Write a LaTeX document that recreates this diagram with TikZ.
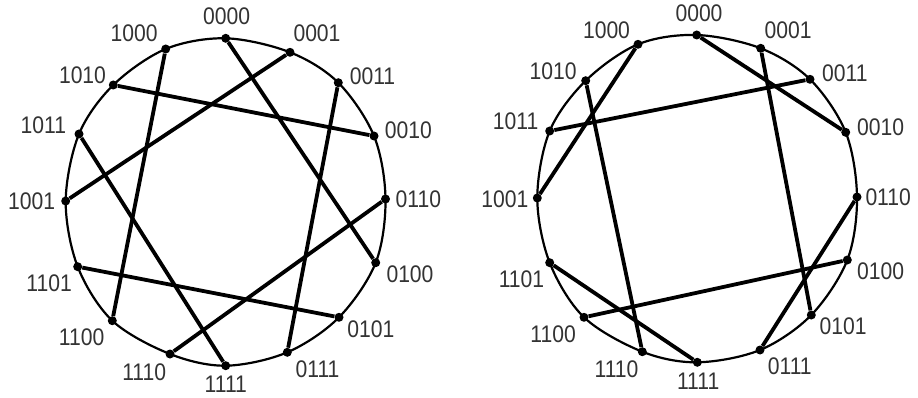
\documentclass[tikz,border=0pt]{standalone}
\usepackage{fontspec}
\setmainfont{Liberation Sans}
\newfontfamily\bitfont[FakeStretch=0.88]{Liberation Sans}
\usepackage{tikz}
\usetikzlibrary{positioning}

\tikzset{
  dot/.style={circle, fill=black, inner sep=0pt, minimum size=9pt},
  chord/.style={line width=3.8pt},
  rim/.style={line width=2.2pt},
  lbl/.style={inner sep=0pt, text=black!80, font=\bitfont\fontsize{24}{26}\selectfont}
}

\begin{document}
\begin{tikzpicture}[x=1pt, y=-1pt]
    \useasboundingbox (0,0) rectangle (918,398);

    % left ring
    \node[dot] (L0000) at (225.7,38.3) {};
    \node[dot] (L0001) at (290,52.3) {};
    \node[dot] (L0011) at (338.3,82.7) {};
    \node[dot] (L0010) at (374,136) {};
    \node[dot] (L0110) at (385.5,199) {};
    \node[dot] (L0100) at (375.7,262.7) {};
    \node[dot] (L0101) at (339,317.3) {};
    \node[dot] (L0111) at (287.3,352.3) {};
    \node[dot] (L1111) at (225.7,365.7) {};
    \node[dot] (L1110) at (170,354) {};
    \node[dot] (L1100) at (112.3,320.7) {};
    \node[dot] (L1101) at (77.7,266.7) {};
    \node[dot] (L1001) at (65.7,201) {};
    \node[dot] (L1011) at (79,134) {};
    \node[dot] (L1010) at (113.3,85) {};
    \node[dot] (L1000) at (165.7,49) {};

    \node[lbl] (tL0000) at (226.7,16.7) {0000};
    \node[lbl] (tL0001) at (317,33) {0001};
    \node[lbl] (tL0011) at (372.5,76.7) {0011};
    \node[lbl] (tL0010) at (408.3,130) {0010};
    \node[lbl] (tL0110) at (418.3,199) {0110};
    \node[lbl] (tL0100) at (410,274) {0100};
    \node[lbl] (tL0101) at (370.8,329) {0101};
    \node[lbl] (tL0111) at (317.5,369) {0111};
    \node[lbl] (tL1111) at (225.8,384) {1111};
    \node[lbl] (tL1110) at (144.2,372.5) {1110};
    \node[lbl] (tL1100) at (81.7,337.5) {1100};
    \node[lbl] (tL1101) at (49.2,283.3) {1101};
    \node[lbl] (tL1001) at (31.7,201.5) {1001};
    \node[lbl] (tL1011) at (43.3,125.3) {1011};
    \node[lbl] (tL1010) at (82.5,75) {1010};
    \node[lbl] (tL1000) at (134.2,33.3) {1000};

    \draw[rim] plot[smooth cycle, tension=0.55] coordinates {(L0000.center) (L0001.center) (L0011.center) (L0010.center) (L0110.center) (L0100.center) (L0101.center) (L0111.center) (L1111.center) (L1110.center) (L1100.center) (L1101.center) (L1001.center) (L1011.center) (L1010.center) (L1000.center)};

    \draw[chord] (L1000) -- (L1100);
    \draw[chord] (L0000) -- (L0100);
    \draw[chord] (L0001) -- (L1001);
    \draw[chord] (L1010) -- (L0010);
    \draw[chord] (L0011) -- (L0111);
    \draw[chord] (L1011) -- (L1111);
    \draw[chord] (L0110) -- (L1110);
    \draw[chord] (L1101) -- (L0101);

    % right ring
    \node[dot] (R0000) at (696.7,35) {};
    \node[dot] (R0001) at (760.7,48.3) {};
    \node[dot] (R0011) at (810,79.3) {};
    \node[dot] (R0010) at (845.7,132.3) {};
    \node[dot] (R0110) at (857,197) {};
    \node[dot] (R0100) at (847.3,260) {};
    \node[dot] (R0101) at (811.3,315) {};
    \node[dot] (R0111) at (760,350) {};
    \node[dot] (R1111) at (697.3,362.3) {};
    \node[dot] (R1110) at (642.3,351.7) {};
    \node[dot] (R1100) at (584,317.3) {};
    \node[dot] (R1101) at (549.7,262.7) {};
    \node[dot] (R1001) at (537.3,198) {};
    \node[dot] (R1011) at (549.7,131) {};
    \node[dot] (R1010) at (585.7,80.7) {};
    \node[dot] (R1000) at (638,44.3) {};

    \node[lbl] (tR0000) at (699,13.3) {0000};
    \node[lbl] (tR0001) at (788.2,30) {0001};
    \node[lbl] (tR0011) at (844.8,73.3) {0011};
    \node[lbl] (tR0010) at (880.7,127.5) {0010};
    \node[lbl] (tR0110) at (888.2,197) {0110};
    \node[lbl] (tR0100) at (880.7,270.8) {0100};
    \node[lbl] (tR0101) at (843.2,325.8) {0101};
    \node[lbl] (tR0111) at (789.8,365.8) {0111};
    \node[lbl] (tR1111) at (698.2,380.8) {1111};
    \node[lbl] (tR1110) at (616.5,369.2) {1110};
    \node[lbl] (tR1100) at (553.2,334.2) {1100};
    \node[lbl] (tR1101) at (521.5,279.7) {1101};
    \node[lbl] (tR1001) at (504.8,199) {1001};
    \node[lbl] (tR1011) at (515.7,121) {1011};
    \node[lbl] (tR1010) at (553.2,71.7) {1010};
    \node[lbl] (tR1000) at (606.5,30) {1000};

    \draw[rim] plot[smooth cycle, tension=0.55] coordinates {(R0000.center) (R0001.center) (R0011.center) (R0010.center) (R0110.center) (R0100.center) (R0101.center) (R0111.center) (R1111.center) (R1110.center) (R1100.center) (R1101.center) (R1001.center) (R1011.center) (R1010.center) (R1000.center)};

    \draw[chord] (R1000) -- (R1001);
    \draw[chord] (R0000) -- (R0010);
    \draw[chord] (R1010) -- (R1110);
    \draw[chord] (R0001) -- (R0101);
    \draw[chord] (R1011) -- (R0011);
    \draw[chord] (R0110) -- (R0111);
    \draw[chord] (R1101) -- (R1111);
    \draw[chord] (R1100) -- (R0100);
\end{tikzpicture}
\end{document}
